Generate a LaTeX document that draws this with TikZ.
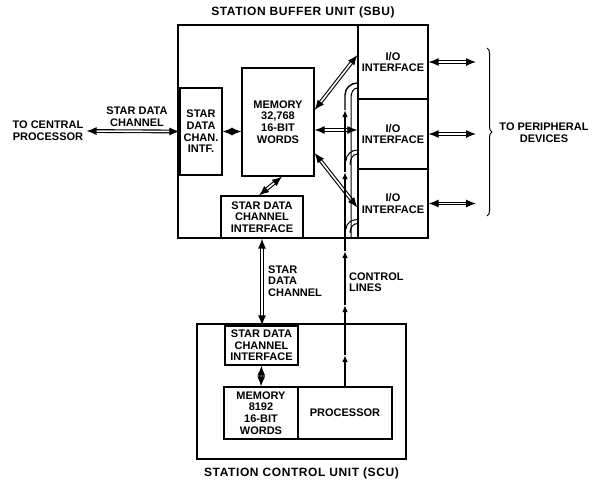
\documentclass[tikz,border=0pt]{standalone}
\usepackage{fontspec}
\setmainfont{Liberation Sans}
\usetikzlibrary{positioning,arrows.meta,decorations.pathreplacing}

\tikzset{
  unitbox/.style={draw, line width=1.9pt, inner sep=0pt},
  blk/.style={draw, line width=1.2pt, inner sep=0pt, align=center},
  lbl/.style={inner sep=0pt, align=center},
  ttl/.style={inner sep=0pt, font=\fontsize{12}{13}\selectfont\bfseries\addfontfeature{LetterSpace=5}},
  bus/.style={double, double distance=1.6pt, line width=1.1pt,
    {Latex[length=10pt,width=8pt]}-{Latex[length=10pt,width=8pt]}},
  ctl/.style={line width=1.4pt},
  uptip/.style={ctl, -{Latex[length=7pt,width=5.5pt]}},
  hook/.style={line width=1pt},
}

\begin{document}
\begin{tikzpicture}[x=1pt, y=-1pt, font=\fontsize{11}{11.6}\selectfont\bfseries]
  \useasboundingbox (0,0) rectangle (592,487);

  % station buffer unit
  \node[unitbox, minimum width=250pt, minimum height=213pt] (sbu) at (303,131.5) {};
  \node[ttl, above=6pt of sbu] (sbutitle) {STATION BUFFER UNIT (SBU)};

  \node[blk, minimum width=70pt, minimum height=74pt] (io1) at (393,62) {I/O\\INTERFACE};
  \node[blk, minimum width=70pt, minimum height=70pt] (io2) at (393,134) {I/O\\INTERFACE};
  \node[blk, minimum width=70pt, minimum height=69pt] (io3) at (393,203.5) {I/O\\INTERFACE};

  \node[blk, minimum width=72pt, minimum height=108pt] (smem) at (278,122) {MEMORY\\32,768\\16-BIT\\WORDS};
  \node[blk, minimum width=42pt, minimum height=87pt] (lintf) at (201,131.5) {STAR\\DATA\\CHAN.\\INTF.};
  \node[blk, minimum width=82pt, minimum height=42pt] (sintf) at (262,217) {STAR DATA\\CHANNEL\\INTERFACE};

  % station control unit
  \node[unitbox, minimum width=209pt, minimum height=135pt] (scu) at (301.5,391.5) {};
  \node[ttl, below=8pt of scu] (scutitle) {STATION CONTROL UNIT (SCU)};

  \node[blk, minimum width=73pt, minimum height=39pt] (cintf) at (261.5,345.5) {STAR DATA\\CHANNEL\\INTERFACE};
  \node[blk, minimum width=74pt, minimum height=52pt] (cmem) at (261,413) {MEMORY\\8192\\16-BIT\\WORDS};
  \node[blk, minimum width=94pt, minimum height=52pt] (proc) at (345,413) {PROCESSOR};

  % outside labels
  \node[lbl, inner sep=3pt] (cpu) at (48,131) {TO CENTRAL\\PROCESSOR};
  \node[lbl] (sdcleft) at (137,117) {STAR DATA\\CHANNEL};
  \node[lbl, align=left, anchor=west] (sdcdown) at (268,281) {STAR\\DATA\\CHANNEL};
  \node[lbl, align=left, anchor=west, font=\fontsize{11}{10.5}\selectfont\bfseries] (ctllbl) at (349,282) {CONTROL\\LINES};
  \node[lbl] (periph) at (544,133) {TO PERIPHERAL\\DEVICES};

  % data paths
  \draw[bus] (cpu.east) -- (lintf.west);
  \draw[bus] (lintf.east) -- (lintf.east -| smem.west);
  \draw[bus] ([xshift=4pt]smem.south) -- ([xshift=-3pt]sintf.north);
  \draw[bus] ([yshift=12pt]smem.east) -- ([yshift=7pt]io1.west);
  \draw[bus] ([yshift=4pt]io2.west -| smem.east) -- ([yshift=4pt]io2.west);
  \draw[bus] ([yshift=-31pt]smem.east) -- ([yshift=-4pt]io3.west);
  \draw[bus] (sintf.south) -- (sintf.south |- cintf.north);
  \draw[bus] (cintf.south) -- (cmem.north);

  \coordinate (pend) at (476,0);
  \draw[bus] (io1.east) -- (io1.east -| pend);
  \draw[bus] (io2.east) -- (io2.east -| pend);
  \draw[bus] (io3.east) -- (io3.east -| pend);

  % brace
  \coordinate (btop) at (487,48);
  \coordinate (bbot) at (487,216);
  \draw[line width=1pt, decorate, decoration={brace, amplitude=5pt}] (btop) -- (bbot);

  % control lines, arrows pointing up
  \coordinate (ca1) at (345,355);
  \coordinate (ca2) at (345,305);
  \coordinate (ca3) at (345,251);
  \coordinate (ca4) at (345,172);
  \coordinate (ca5) at (345,110);
  \coordinate (cbend) at (345,95);
  \draw[uptip] (proc.north) -- (ca1);
  \draw[uptip] (ca1) -- (ca2);
  \draw[uptip] (ca2) -- (ca3);
  \draw[uptip] (ca3) -- (ca4);
  \draw[uptip] (ca4) -- (ca5);
  \draw[ctl] (ca5) -- (cbend) to[out=90, in=180] ([yshift=-21pt]io1.west);

  \coordinate (cb2) at (351,238);
  \coordinate (cb2top) at (351,98);
  \draw[hook] (cb2) -- (cb2top) to[out=90, in=180] ([yshift=-26pt]io1.west);
  \draw[hook] (346,161) to[out=90, in=180] ([yshift=-16pt]io2.west);
  \draw[hook] (350,165) to[out=90, in=180] ([yshift=-20pt]io2.west);
  \draw[hook] (346,229) to[out=90, in=180] ([yshift=-16pt]io3.west);
  \draw[hook] (350,233) to[out=90, in=180] ([yshift=-20pt]io3.west);
\end{tikzpicture}
\end{document}
